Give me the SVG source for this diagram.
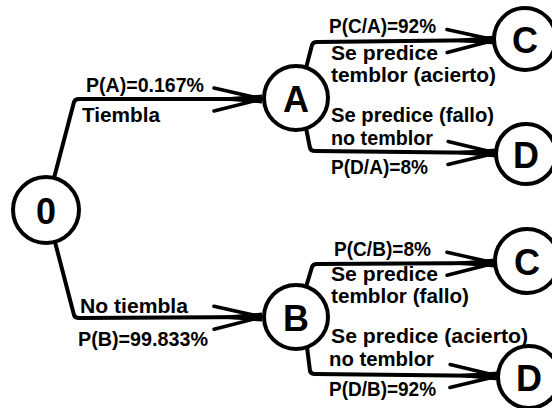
<svg xmlns="http://www.w3.org/2000/svg" width="552" height="408" viewBox="0 0 552 408">
<defs>
<style>
.node circle{fill:#fff;stroke:#000;stroke-width:4}
.node text{font-family:"Liberation Sans",Arial,sans-serif;font-weight:bold;font-size:36px;text-anchor:middle;dominant-baseline:central;fill:#000}
.edge{fill:none;stroke:#000;stroke-width:4;stroke-linejoin:round;stroke-linecap:round}
.lbl{font-family:"Liberation Sans",Arial,sans-serif;font-weight:bold;font-size:20px;fill:#000}
</style>
<marker id="arr" markerUnits="userSpaceOnUse" markerWidth="56" markerHeight="32" refX="50" refY="15" orient="auto" overflow="visible">
<path d="M2,4 L50,15 M2,27 L50,15" stroke="#000" stroke-width="3.5" fill="none" stroke-linecap="round"/>
<path d="M12,13.5 L50,10.5 L50,19.5 L12,16.5 Z" fill="#000"/>
</marker>
</defs>
<rect width="552" height="408" fill="#fff"/>
<g id="connectors">
<path class="edge" d="M54,178 L74,102 Q75,99 79,99 L262,99" marker-end="url(#arr)"/>
<path class="edge" d="M55,242 L74,315 Q75,318 79,318 L262,317" marker-end="url(#arr)"/>
<path class="edge" d="M306,68 L312,45 Q313,42 317,42 L495,40" marker-end="url(#arr)"/>
<path class="edge" d="M306,128 L310,148 Q311,151 315,151 L496,153" marker-end="url(#arr)"/>
<path class="edge" d="M306,287 L312,267 Q313,264 317,264 L495,263" marker-end="url(#arr)"/>
<path class="edge" d="M307,347 L310,371 Q311,374 315,374 L498,376" marker-end="url(#arr)"/>
</g>
<g id="labels">
<text class="lbl" x="86" y="92" textLength="118" lengthAdjust="spacingAndGlyphs">P(A)=0.167%</text>
<text class="lbl" x="82" y="122" textLength="78" lengthAdjust="spacingAndGlyphs">Tiembla</text>
<text class="lbl" x="80" y="313" textLength="108" lengthAdjust="spacingAndGlyphs">No tiembla</text>
<text class="lbl" x="78" y="346" textLength="130" lengthAdjust="spacingAndGlyphs">P(B)=99.833%</text>
<text class="lbl" x="329" y="33" textLength="107" lengthAdjust="spacingAndGlyphs">P(C/A)=92%</text>
<text class="lbl" x="331" y="60" textLength="107" lengthAdjust="spacingAndGlyphs">Se predice</text>
<text class="lbl" x="331" y="82" textLength="165" lengthAdjust="spacingAndGlyphs">temblor (acierto)</text>
<text class="lbl" x="331" y="122" textLength="163" lengthAdjust="spacingAndGlyphs">Se predice (fallo)</text>
<text class="lbl" x="331" y="145" textLength="102" lengthAdjust="spacingAndGlyphs">no temblor</text>
<text class="lbl" x="331" y="174" textLength="97" lengthAdjust="spacingAndGlyphs">P(D/A)=8%</text>
<text class="lbl" x="334" y="256" textLength="97" lengthAdjust="spacingAndGlyphs">P(C/B)=8%</text>
<text class="lbl" x="331" y="281" textLength="107" lengthAdjust="spacingAndGlyphs">Se predice</text>
<text class="lbl" x="331" y="303" textLength="138" lengthAdjust="spacingAndGlyphs">temblor (fallo)</text>
<text class="lbl" x="331" y="343" textLength="197" lengthAdjust="spacingAndGlyphs">Se predice (acierto)</text>
<text class="lbl" x="329" y="366" textLength="105" lengthAdjust="spacingAndGlyphs">no temblor</text>
<text class="lbl" x="329" y="396" textLength="107" lengthAdjust="spacingAndGlyphs">P(D/B)=92%</text>
</g>
<g id="node-0" class="node"><circle cx="46" cy="210" r="33"/><text x="46" y="211">0</text></g>
<g id="node-A" class="node"><circle cx="296" cy="98" r="32"/><text x="296" y="99">A</text></g>
<g id="node-B" class="node"><circle cx="296" cy="317" r="32"/><text x="296" y="318">B</text></g>
<g id="node-C1" class="node"><circle cx="525" cy="39" r="31"/><text x="525" y="40">C</text></g>
<g id="node-D1" class="node"><circle cx="526" cy="154" r="30"/><text x="526" y="155">D</text></g>
<g id="node-C2" class="node"><circle cx="527" cy="261" r="32"/><text x="527" y="262">C</text></g>
<g id="node-D2" class="node"><circle cx="529" cy="377" r="31"/><text x="529" y="378">D</text></g>
</svg>
